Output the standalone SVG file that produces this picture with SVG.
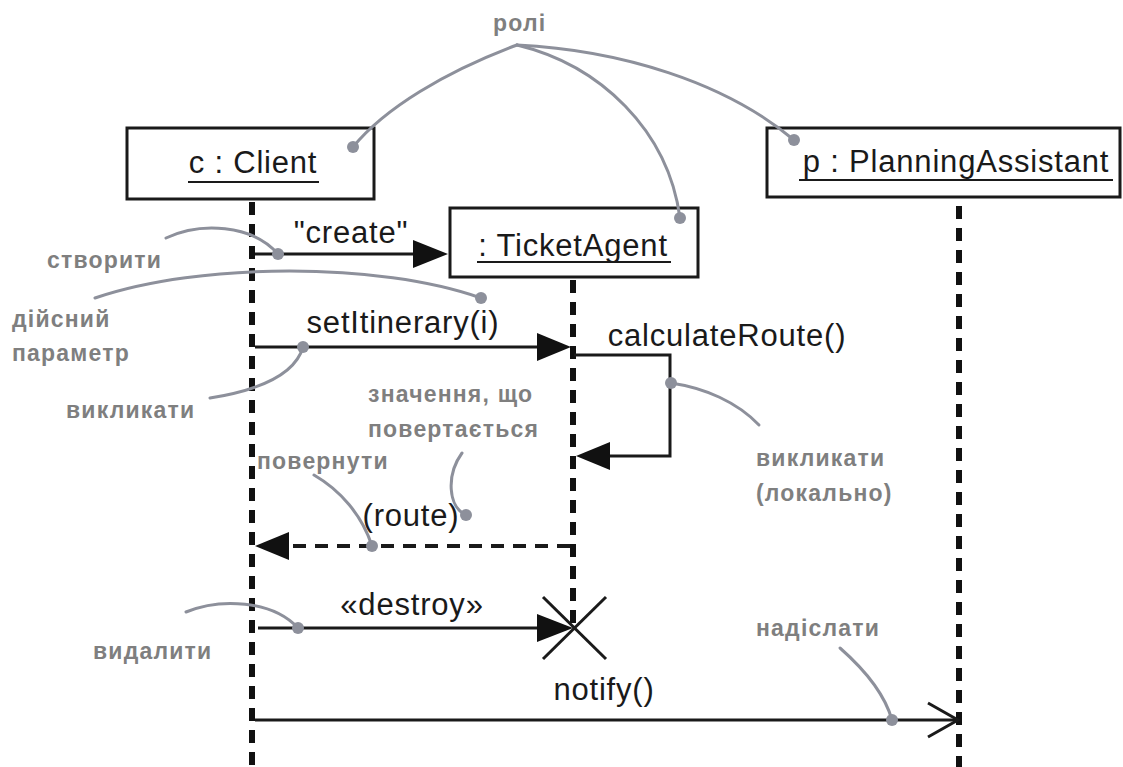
<svg xmlns="http://www.w3.org/2000/svg" width="1123" height="767" viewBox="0 0 1123 767">
  <style>
    .box { fill: #ffffff; stroke: #1a1a1a; stroke-width: 3; }
    .life { stroke: #111111; stroke-width: 6; stroke-dasharray: 13 9; fill: none; }
    .ul { stroke: #1a1a1a; stroke-width: 2; }
    .msg { stroke: #1a1a1a; stroke-width: 3; fill: none; }
    .ret { stroke: #1a1a1a; stroke-width: 4; stroke-dasharray: 13 9; fill: none; }
    .head { fill: #111111; stroke: none; }
    .lbl { font-family: "Liberation Sans", Arial, Helvetica, sans-serif; font-size: 31px; letter-spacing: 0.8px; fill: #1a1a1a; text-anchor: middle; }
    .note { font-family: "Liberation Sans", Arial, sans-serif; font-weight: bold; font-size: 23px; letter-spacing: 1.2px; fill: #7f7f7f; }
    .lead { stroke: #8d909b; stroke-width: 3; fill: none; stroke-linecap: round; }
    .dot { fill: #8d909b; }
  </style>

  <!-- lifeline objects -->
  <g id="client">
    <line class="life" x1="252" y1="202" x2="252" y2="767"/>
    <rect class="box" x="127" y="128" width="247" height="71"/>
    <text class="lbl" x="253" y="173">c : Client</text>
    <line class="ul" x1="188" y1="182" x2="319" y2="182"/>
  </g>

  <g id="ticketAgent">
    <line class="life" x1="573" y1="280" x2="573" y2="624"/>
    <rect class="box" x="450" y="208" width="248" height="69"/>
    <text class="lbl" x="573" y="256">: TicketAgent</text>
    <line class="ul" x1="477" y1="262" x2="671" y2="262"/>
    <!-- destruction mark -->
    <line class="msg" x1="543" y1="597" x2="606" y2="659"/>
    <line class="msg" x1="606" y1="597" x2="543" y2="659"/>
  </g>

  <g id="planningAssistant">
    <line class="life" x1="959" y1="206" x2="959" y2="767"/>
    <rect class="box" x="767" y="128" width="353" height="69"/>
    <text class="lbl" x="956" y="172">p : PlanningAssistant</text>
    <line class="ul" x1="799" y1="180" x2="1113" y2="180"/>
  </g>

  <!-- messages -->
  <g id="connectors">
    <!-- create -->
    <line class="msg" x1="255" y1="254" x2="415" y2="254"/>
    <polygon class="head" points="448,254 413,240 413,268"/>
    <text class="lbl" x="351" y="243">"create"</text>

    <!-- setItinerary -->
    <line class="msg" x1="255" y1="347" x2="540" y2="347"/>
    <polygon class="head" points="571,347 537,333 537,361"/>
    <text class="lbl" x="403" y="333">setItinerary(i)</text>

    <!-- self call -->
    <polyline class="msg" points="574,355 670,355 670,456 605,456"/>
    <polygon class="head" points="576,456 610,442 610,470"/>
    <text class="lbl" x="727" y="346">calculateRoute()</text>

    <!-- return -->
    <line class="ret" x1="570" y1="546" x2="286" y2="546"/>
    <polygon class="head" points="255,546 289,532 289,560"/>
    <text class="lbl" x="411" y="526">(route)</text>

    <!-- destroy -->
    <line class="msg" x1="258" y1="628" x2="540" y2="628"/>
    <polygon class="head" points="573,628 537,614 537,642"/>
    <text class="lbl" x="412" y="615">«destroy»</text>

    <!-- notify (asynchronous) -->
    <line class="msg" x1="255" y1="720" x2="957" y2="720"/>
    <polyline class="msg" points="928,703 958,720 928,737"/>
    <text class="lbl" x="604" y="700">notify()</text>
  </g>

  <!-- annotations -->
  <g id="annotations">
    <text class="note" x="493" y="31">ролі</text>
    <path class="lead" d="M517,45 C445,72 385,108 353,147"/>
    <path class="lead" d="M517,45 C600,65 668,130 680,218"/>
    <path class="lead" d="M517,45 C620,50 725,82 794,140"/>
    <circle class="dot" cx="353" cy="147" r="6"/>
    <circle class="dot" cx="680" cy="218" r="6"/>
    <circle class="dot" cx="794" cy="140" r="6"/>

    <text class="note" x="47" y="268">створити</text>
    <path class="lead" d="M166,238 C200,222 252,224 278,254"/>
    <circle class="dot" cx="278" cy="254" r="6"/>

    <text class="note" x="12" y="327">дійсний</text>
    <text class="note" x="12" y="361">параметр</text>
    <path class="lead" d="M95,298 C200,262 380,262 481,298"/>
    <circle class="dot" cx="481" cy="298" r="6"/>

    <text class="note" x="66" y="418">викликати</text>
    <path class="lead" d="M210,398 C260,390 295,375 303,347"/>
    <circle class="dot" cx="303" cy="347" r="6"/>

    <text class="note" x="368" y="402">значення, що</text>
    <text class="note" x="368" y="437">повертається</text>
    <path class="lead" d="M462,453 C446,475 448,507 466,515"/>
    <circle class="dot" cx="466" cy="515" r="6"/>

    <text class="note" x="257" y="469">повернути</text>
    <path class="lead" d="M314,475 C340,490 362,515 372,546"/>
    <circle class="dot" cx="372" cy="546" r="6"/>

    <text class="note" x="756" y="466">викликати</text>
    <text class="note" x="756" y="501">(локально)</text>
    <path class="lead" d="M671,383 C705,388 737,402 759,425"/>
    <circle class="dot" cx="671" cy="383" r="6"/>

    <text class="note" x="93" y="659">видалити</text>
    <path class="lead" d="M186,612 C220,598 272,600 298,628"/>
    <circle class="dot" cx="298" cy="628" r="6"/>

    <text class="note" x="756" y="636">надіслати</text>
    <path class="lead" d="M840,648 C865,670 885,695 892,720"/>
    <circle class="dot" cx="892" cy="720" r="6"/>
  </g>
</svg>
